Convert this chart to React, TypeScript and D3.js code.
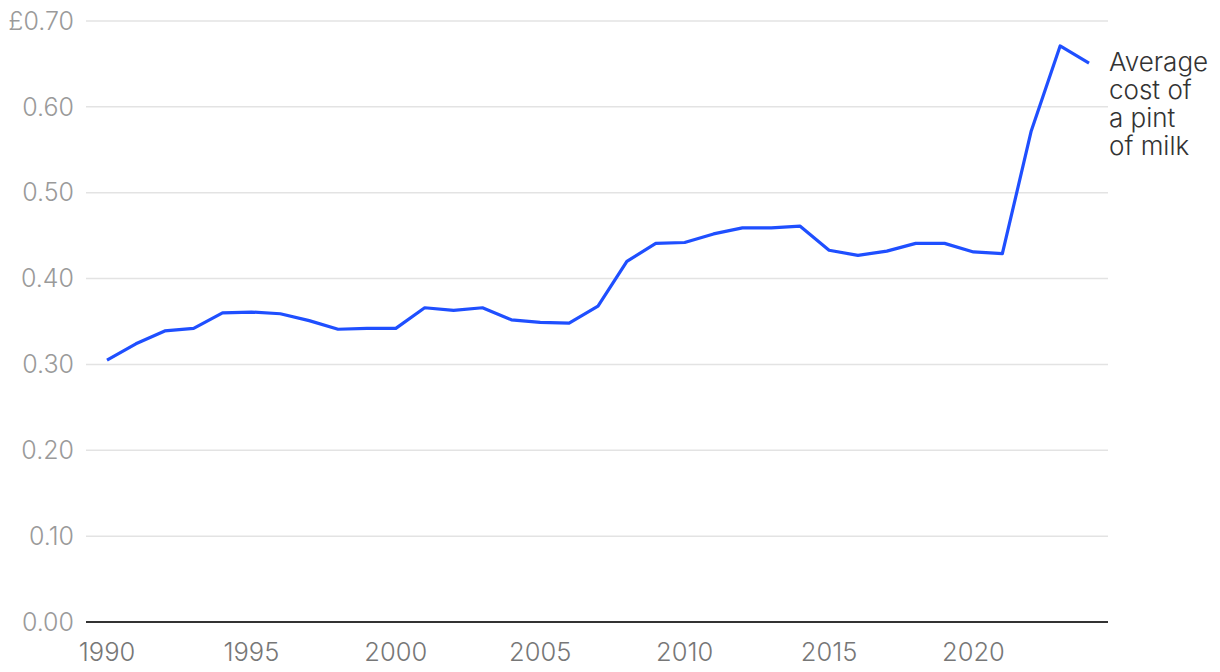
import React from "react";
import * as d3 from "d3";

const years = [1990,1991,1992,1993,1994,1995,1996,1997,1998,1999,2000,2001,2002,2003,2004,2005,2006,2007,2008,2009,2010,2011,2012,2013,2014,2015,2016,2017,2018,2019,2020,2021,2022,2023,2024];
const prices = [0.305,0.324,0.339,0.342,0.360,0.361,0.359,0.351,0.341,0.342,0.342,0.366,0.363,0.366,0.352,0.349,0.348,0.368,0.420,0.441,0.442,0.452,0.459,0.459,0.461,0.433,0.427,0.432,0.441,0.441,0.431,0.429,0.572,0.671,0.651];
const yTicks = [0, 0.1, 0.2, 0.3, 0.4, 0.5, 0.6, 0.7];
const xTicks = [1990, 1995, 2000, 2005, 2010, 2015, 2020];
const labelLines = ["Average", "cost of", "a pint", "of milk"];

export default function App() {
  const W = 1220, H = 672;
  const x = d3.scaleLinear().domain([1990, 2024]).range([107, 1089]);
  const y = d3.scaleLinear().domain([0, 0.7]).range([622, 21]);
  const line = d3.line<number>().x((_, i) => x(years[i])).y(d => y(d));
  const font = "Inter, 'Noto Sans', sans-serif";
  const last = prices[prices.length - 1];
  return (
    <svg width={W} height={H} style={{ position: "absolute", left: 0, top: 0 }} fontFamily={font}>
      {yTicks.map(t => (
        <g key={t}>
          {t > 0 && <line x1={86} x2={1108} y1={y(t)} y2={y(t)} stroke="#e3e3e3" strokeWidth={1.5} />}
          <text x={74} y={y(t)} dy="0.35em" textAnchor="end" fontSize={25} fill="#9a9a9a" fontWeight={300}>
            {t === 0.7 ? "£0.70" : t.toFixed(2)}
          </text>
        </g>
      ))}
      <line x1={86} x2={1108} y1={y(0)} y2={y(0)} stroke="#333" strokeWidth={2} />
      {xTicks.map(t => (
        <text key={t} x={x(t)} y={661} textAnchor="middle" fontSize={25.5} fill="#777" fontWeight={300}>{t}</text>
      ))}
      <path d={line(prices) || ""} fill="none" stroke="#1f4fff" strokeWidth={3.2} strokeLinejoin="round" />
      <text x={1109} y={y(last) + 8} fontSize={26} fill="#333" fontWeight={300}>
        {labelLines.map((l, i) => (
          <tspan key={i} x={1109} dy={i === 0 ? 0 : 28}>{l}</tspan>
        ))}
      </text>
    </svg>
  );
}
